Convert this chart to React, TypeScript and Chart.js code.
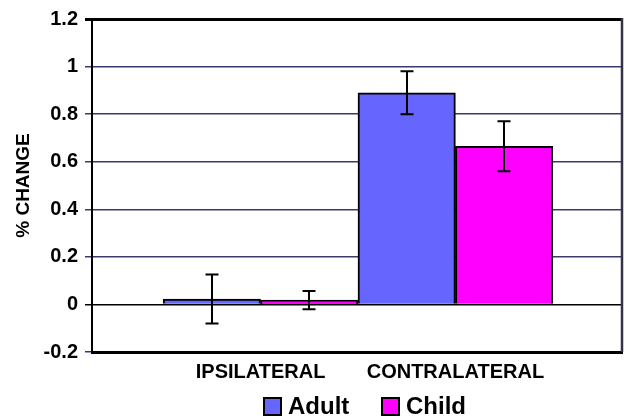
import React, { useEffect, useRef } from "react";
import { Chart, registerables } from "chart.js";

Chart.register(...registerables);

const categories = ["IPSILATERAL", "CONTRALATERAL"];
const seriesNames = ["Adult", "Child"];
const seriesColors = ["#6666FF", "#FF00FF"];
const adultValues = [0.023, 0.89];
const childValues = [0.018, 0.665];
const adultErrors = [0.103, 0.09];
const childErrors = [0.038, 0.105];
const yTicks = [-0.2, 0, 0.2, 0.4, 0.6, 0.8, 1, 1.2];

const FONT = "'Liberation Sans', Arial, Helvetica, sans-serif";
const PLOT_BOTTOM = 352;

const errorBarPlugin = {
  id: "errorBars",
  afterDatasetsDraw(chart: any) {
    const ctx = chart.ctx;
    const yScale = chart.scales.y;
    const errs = [adultErrors, childErrors];
    const vals = [adultValues, childValues];
    ctx.save();
    ctx.strokeStyle = "#000";
    ctx.lineWidth = 2;
    chart.data.datasets.forEach((_: any, i: number) => {
      const meta = chart.getDatasetMeta(i);
      meta.data.forEach((bar: any, j: number) => {
        const v = vals[i][j];
        const e = errs[i][j];
        const x = Math.round(bar.x);
        const top = yScale.getPixelForValue(v + e);
        const bot = yScale.getPixelForValue(v - e);
        ctx.beginPath();
        ctx.moveTo(x, top);
        ctx.lineTo(x, bot);
        ctx.moveTo(x - 6.5, top);
        ctx.lineTo(x + 6.5, top);
        ctx.moveTo(x - 6.5, bot);
        ctx.lineTo(x + 6.5, bot);
        ctx.stroke();
      });
    });
    ctx.restore();
  },
};

const borderPlugin = {
  id: "areaBorder",
  afterDraw(chart: any) {
    const { ctx, chartArea } = chart;
    ctx.save();
    ctx.strokeStyle = "#333344";
    ctx.lineWidth = 2.5;
    ctx.beginPath();
    ctx.moveTo(chartArea.right, chartArea.top - 1);
    ctx.lineTo(chartArea.right, chartArea.bottom);
    ctx.stroke();
    ctx.restore();
  },
};

export default function App() {
  const ref = useRef<HTMLCanvasElement>(null);
  useEffect(() => {
    document.body.style.margin = "0";
    const chart = new Chart(ref.current!, {
      type: "bar",
      data: {
        labels: categories,
        datasets: [
          {
            label: seriesNames[0],
            data: adultValues,
            backgroundColor: seriesColors[0],
            borderColor: "#000",
            borderWidth: 2,
          },
          {
            label: seriesNames[1],
            data: childValues,
            backgroundColor: seriesColors[1],
            borderColor: "#000",
            borderWidth: 2,
          },
        ],
      },
      options: {
        animation: false,
        responsive: false,
        devicePixelRatio: 1,
        layout: { padding: { left: 0, right: 2, top: 17, bottom: 0 } },
        datasets: { bar: { barPercentage: 1, categoryPercentage: 1 } } as any,
        plugins: {
          tooltip: { enabled: false },
          legend: { display: false },
        },
        scales: {
          x: {
            type: "category",
            offset: false,
            grid: { display: false, drawTicks: false },
            border: { display: true, color: "#000", width: 3 },
            afterBuildTicks: (scale: any) => {
              scale._startValue = -0.865;
              scale._valueRange = 2.72;
            },
            afterFit: (scale: any) => {
              scale.height = 418 - PLOT_BOTTOM;
            },
            ticks: {
              color: "#000",
              padding: 8,
              maxRotation: 0,
              autoSkip: false,
              font: { family: FONT, size: 20, weight: "bold" },
            },
          },
          y: {
            min: -0.2,
            max: 1.2,
            afterBuildTicks: (scale: any) => {
              scale.ticks = yTicks.map((v) => ({ value: v }));
            },
            afterFit: (scale: any) => {
              scale.width = 92;
            },
            grid: {
              color: (c: any) =>
                c.tick && (c.tick.value === 0 || c.tick.value === 1.2) ? "#000" : "#3a3a6a",
              lineWidth: (c: any) => (c.tick && c.tick.value === 1.2 ? 3 : 1.5),
              tickLength: 7,
            },
            border: { display: true, color: "#000", width: 2 },
            ticks: {
              color: "#000",
              padding: 7,
              font: { family: FONT, size: 20, weight: "bold" },
              callback: (v: any) => String(parseFloat(Number(v).toFixed(1))),
            },
            title: {
              display: true,
              text: "% CHANGE",
              color: "#000",
              font: { family: FONT, size: 19, weight: "bold" },
              padding: { top: 12, bottom: 0 },
            },
          },
        },
      },
      plugins: [errorBarPlugin, borderPlugin],
    });
    return () => chart.destroy();
  }, []);

  const legendItems = [
    { name: seriesNames[0], color: seriesColors[0], boxX: 263, textX: 288 },
    { name: seriesNames[1], color: seriesColors[1], boxX: 381, textX: 406 },
  ];

  return (
    <div style={{ position: "relative", width: 624, height: 418 }}>
      <canvas ref={ref} width={624} height={418} style={{ display: "block" }} />
      {legendItems.map((it) => (
        <React.Fragment key={it.name}>
          <div
            style={{
              position: "absolute",
              left: it.boxX,
              top: 397,
              width: 15,
              height: 15,
              background: it.color,
              border: "2px solid #000",
            }}
          />
          <div
            style={{
              position: "absolute",
              left: it.textX,
              top: 392,
              height: 28,
              lineHeight: "28px",
              fontFamily: FONT,
              fontWeight: "bold",
              fontSize: 24,
              color: "#000",
              whiteSpace: "nowrap",
            }}
          >
            {it.name}
          </div>
        </React.Fragment>
      ))}
    </div>
  );
}
